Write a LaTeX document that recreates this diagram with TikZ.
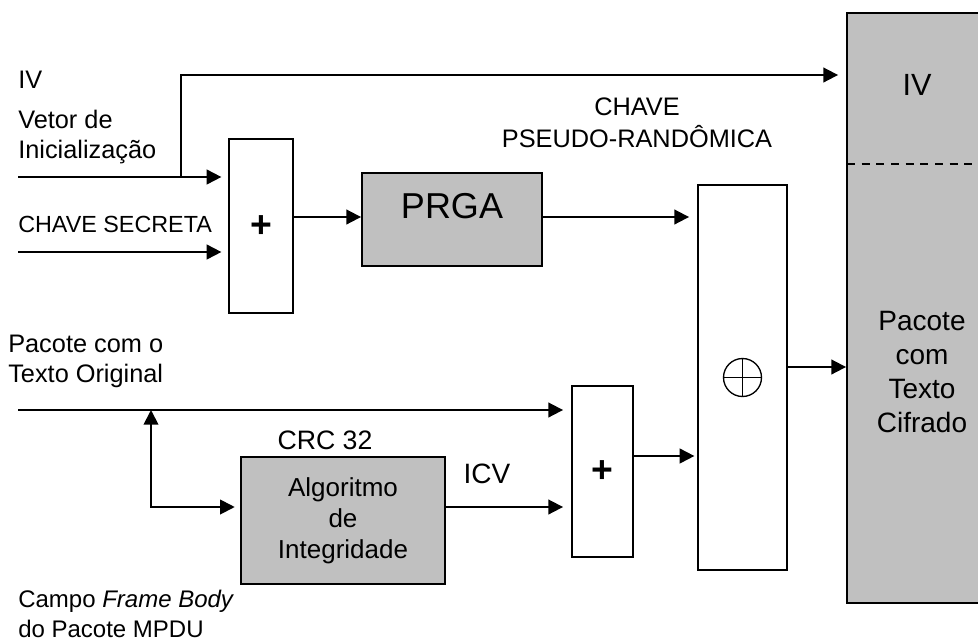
\documentclass[tikz,border=0pt]{standalone}
\usepackage{fontspec}
\setmainfont{Liberation Sans}
\usetikzlibrary{arrows.meta}
\definecolor{boxgrey}{HTML}{C0C0C0}

\begin{document}
\begin{tikzpicture}[x=0.75pt, y=-0.75pt,
    plainbox/.style={draw, line width=1.4pt, inner sep=0pt},
    greybox/.style={plainbox, fill=boxgrey},
    arr/.style={line width=1.4pt, -{Triangle[length=11pt,width=11pt]}},
    lbl/.style={inner sep=0pt, font=\fontsize{19}{22}\selectfont, align=left},
    plusfont/.style={font=\fontsize{28}{32}\selectfont\bfseries, text height=18pt, text depth=1pt}]
    \useasboundingbox (0,0) rectangle (978,643);

    % Blocks
    \node[plainbox, minimum width=48pt, minimum height=130.5pt, plusfont] (add1) at (261,226) {+};
    \node[greybox, minimum width=135pt, minimum height=69.75pt, font=\fontsize{27}{32}\selectfont,
        text height=19.5pt, text depth=21.7pt] (prga) at (452,219.5) {PRGA};
    \node[plainbox, minimum width=66.75pt, minimum height=288.75pt] (xor) at (742.5,377.5) {};
    \node[plainbox, minimum width=45.75pt, minimum height=128.25pt, plusfont] (add2) at (602.5,471.5) {+};
    \node[greybox, minimum width=153pt, minimum height=95.25pt, align=center,
        font=\fontsize{19.5}{23.25}\selectfont] (crc) at (343,520.5) {Algoritmo\\de\\Integridade};
    \node[greybox, minimum width=107.25pt, minimum height=442.5pt] (pkt) at (918.5,308) {};

    % XOR symbol
    \node[circle, draw, line width=1pt, minimum size=28.5pt, inner sep=0pt] (xorsym) at (xor) {};
    \draw[line width=1pt] (xorsym.north) -- (xorsym.south) (xorsym.west) -- (xorsym.east);

    % Packet fields
    \coordinate (split) at (847,164);
    \draw[line width=1.4pt, dashed, dash pattern=on 6pt off 5pt] (split) -- (split -| pkt.east);
    \node[anchor=base, inner sep=0pt, font=\fontsize{23}{27}\selectfont] (pktiv) at (917,95) {IV};
    \node[align=center, inner sep=0pt, font=\fontsize{21}{25.5}\selectfont] (pkttext) at (922,372)
        {Pacote\\com\\Texto\\Cifrado};

    % Free ends
    \coordinate (ivin) at (18,177);
    \coordinate (keyin) at (18,252);
    \coordinate (ivtap) at (181,177);
    \coordinate (ivtop) at (181,75);
    \coordinate (keyline) at (0,217);
    \coordinate (ptin) at (18,410);
    \coordinate (pttap) at (151,410);
    \coordinate (ptdown) at (151,507);
    \coordinate (sumline) at (0,456);
    \coordinate (outline) at (0,367);

    % Connectors
    \draw[arr, shorten >=5pt] (ivin) -- (ivin -| add1.west);
    \draw[arr, shorten >=5pt] (keyin) -- (keyin -| add1.west);
    \draw[arr, shorten >=6pt] (ivtap) -- (ivtop) -- (ivtop -| pkt.west);
    \draw[arr] (keyline -| add1.east) -- (keyline -| prga.west);
    \draw[arr, shorten >=6pt] (keyline -| prga.east) -- (keyline -| xor.west);
    \draw[arr, shorten >=6pt] (ptin) -- (ptin -| add2.west);
    \draw[line width=1.4pt, {Triangle[length=11pt,width=11pt]}-{Triangle[length=11pt,width=11pt]},
        shorten >=4pt] (pttap) -- (ptdown) -- (ptdown -| crc.west);
    \draw[arr, shorten >=6pt] (ptdown -| crc.east) -- (ptdown -| add2.west);
    \draw[arr, shorten >=2pt] (sumline -| add2.east) -- (sumline -| xor.west);
    \draw[arr] (outline -| xor.east) -- (outline -| pkt.west);

    % Labels (base = last line)
    \node[lbl, anchor=base west] (ivlbl) at (18,88) {IV};
    \node[lbl, anchor=base west] (ivdesc) at (18,158) {Vetor de\\Inicialização};
    \node[lbl, anchor=base west, font=\fontsize{17.5}{21}\selectfont] (keylbl) at (18,232) {CHAVE SECRETA};
    \node[lbl, anchor=base, align=center, font=\fontsize{19}{24}\selectfont] (streamlbl) at (637,147)
        {CHAVE\\PSEUDO-RANDÔMICA};
    \node[lbl, anchor=base west] (ptlbl) at (8,382) {Pacote com o\\Texto Original};
    \node[lbl, anchor=base, font=\fontsize{20}{24}\selectfont] (crclbl) at (325,449) {CRC 32};
    \node[lbl, anchor=base, font=\fontsize{21}{25}\selectfont] (icvlbl) at (487,483) {ICV};
    \node[lbl, anchor=base west, font=\fontsize{18}{22}\selectfont] (bodylbl) at (18,637)
        {Campo \textit{Frame Body}\\do Pacote MPDU};
\end{tikzpicture}
\end{document}
